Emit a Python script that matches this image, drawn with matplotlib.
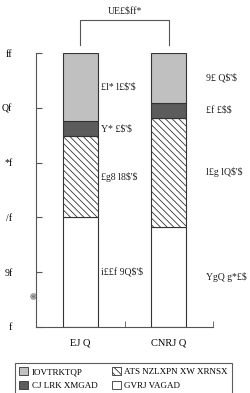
import matplotlib.pyplot as plt
from matplotlib.patches import Patch

groups = ['EJ Q', 'CNRJ Q']
white_vals = [40.0, 36.5]
hatch_vals = [29.7, 39.8]
dark_vals = [5.5, 5.5]
light_vals = [24.8, 18.2]

white_labels = ["i££f 9Q$'$", "YgQ g*£$"]
hatch_labels = ["£g8 l8$'$", "l£g lQ$'$"]
dark_labels = ["Y* £$'$", "£f £$$"]
light_labels = ["£l* l£$'$", "9£ Q$'$"]

legend_names = ['IOVTRKTQP', 'CJ LRK XMGAD', 'ATS NZLXPN XW XRNSX', 'GVRJ VAGAD']
ytick_labels = ['f', '9f', '/f', '*f', 'Qf', 'ff']
bracket_label = 'UE£$ff*'

plt.rcParams['font.family'] = ['Liberation Serif', 'DejaVu Serif']
plt.rcParams['text.parse_math'] = False
plt.rcParams['hatch.color'] = '#777777'
plt.rcParams['hatch.linewidth'] = 0.6

fig = plt.figure(figsize=(2.5, 3.93), dpi=100)
ax = fig.add_axes([0.144, 0.168, 0.708, 0.697])

x = [0, 1]
edge = '#333333'
ax.bar(x, white_vals, 0.4, color='white', edgecolor=edge, lw=0.8)
bot = white_vals
ax.bar(x, hatch_vals, 0.4, bottom=bot, color='white', edgecolor=edge,
       hatch='\\\\\\\\\\', lw=0.8)
bot = [a + b for a, b in zip(bot, hatch_vals)]
ax.bar(x, dark_vals, 0.4, bottom=bot, color='#5c5c5c', edgecolor=edge, lw=0.8)
bot2 = [a + b for a, b in zip(bot, dark_vals)]
ax.bar(x, light_vals, 0.4, bottom=bot2, color='#c0c0c0', edgecolor=edge, lw=0.8)

# segment labels
offs = [0.24, 0.42]
for i in x:
    base = 0
    for vals, labs in [(white_vals, white_labels), (hatch_vals, hatch_labels),
                       (dark_vals, dark_labels), (light_vals, light_labels)]:
        ax.text(i + offs[i], base + vals[i] / 2, labs[i], fontsize=7,
                va='center', ha='left', color='#222222', clip_on=False)
        base += vals[i]

# bracket
ax.plot([0, 0, 1, 1], [103, 112, 112, 103], color='#555555', lw=0.8, clip_on=False)
ax.text(0.5, 113.8, bracket_label, fontsize=7, ha='center', va='bottom', color='#222222')

ax.plot([-0.535], [11.3], marker='o', ms=4, mfc='#bbbbbb', mec='#888888',
        mew=0.6, clip_on=False)
ax.plot([-0.535], [11.3], marker='.', ms=2, color='#777777', clip_on=False)

ax.set_xlim(-0.5, 1.5)
ax.set_ylim(0, 100)
ax.set_yticks([0, 20, 40, 60, 80, 100])
ax.set_yticklabels(ytick_labels, fontsize=7)
ax.set_xticks(x)
ax.set_xticklabels(groups, fontsize=7.5)
ax.set_xticks([-0.5, 0.5, 1.5], minor=True)
ax.tick_params(axis='x', which='major', length=0, pad=8)
ax.tick_params(axis='x', which='minor', direction='in', length=4, color='#555555')
ax.tick_params(axis='y', direction='in', length=4, pad=17, color='#555555')
for s in ['top', 'right']:
    ax.spines[s].set_visible(False)
for s in ['left', 'bottom']:
    ax.spines[s].set_color('#555555')
    ax.spines[s].set_linewidth(0.8)

handles = [
    Patch(facecolor='#c0c0c0', edgecolor=edge, lw=0.6),
    Patch(facecolor='#5c5c5c', edgecolor=edge, lw=0.6),
    Patch(facecolor='white', edgecolor=edge, hatch='\\\\\\\\\\', lw=0.6),
    Patch(facecolor='white', edgecolor=edge, lw=0.6),
]
leg = fig.legend(handles, legend_names, loc='upper left', ncol=2,
                 bbox_to_anchor=(0.04, 0.089, 0.908, 0.0), mode='expand',
                 fontsize=6.5, frameon=True, fancybox=False, handlelength=1.0,
                 handleheight=1.0, handletextpad=0.4, columnspacing=0.8,
                 borderpad=0.5, labelspacing=0.5)
leg.get_frame().set_edgecolor('#333333')
leg.get_frame().set_linewidth(0.8)

fig.savefig('out.png', dpi=100)
